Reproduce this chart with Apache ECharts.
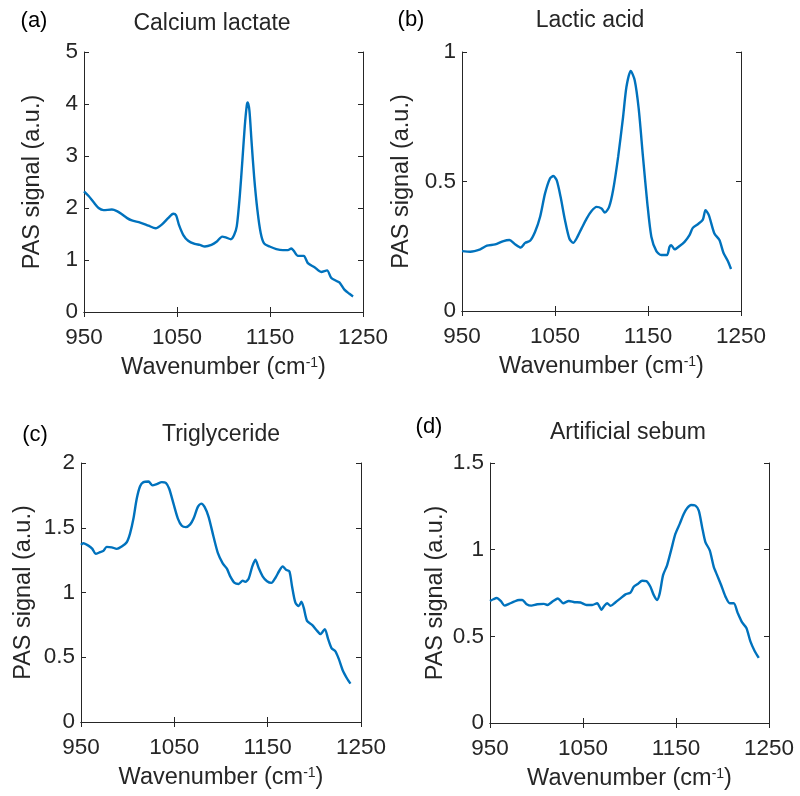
<!DOCTYPE html>
<html><head><meta charset="utf-8">
<script src="https://cdn.jsdelivr.net/npm/echarts@6/dist/echarts.min.js"></script>
<style>html,body{margin:0;padding:0;background:#fff}#c{width:800px;height:796px}</style>
</head><body><div id="c"></div>
<script>
// ---- data ----
const xTickLabels = [950, 1050, 1150, 1250];
const panelTags = ['(a)', '(b)', '(c)', '(d)'];
const panelTitles = ['Calcium lactate', 'Lactic acid', 'Triglyceride', 'Artificial sebum'];
const yMaxes = [5, 1, 2, 1.5];
const ySteps = [1, 0.5, 0.5, 0.5];
const xLabel = 'Wavenumber (cm{sup|-1})';
const yLabel = 'PAS signal (a.u.)';

const wavenumberA = [950,955,960.4,965.7,971,980,985.4,990.7,996,1001.4,1010.4,1019.3,1027,1033.6,1040.7,1046,1049,1052,1056.8,1062,1069,1074.6,1080,1087,1092.5,1098.6,1103,1107.9,1111.4,1114.3,1117.5,1120.4,1122.9,1125,1126,1127.9,1130,1132.9,1136.4,1140,1143.6,1149.6,1156.8,1163.9,1169.3,1172.9,1175.4,1180,1183.6,1186.4,1190.7,1197.9,1205,1211.4,1215.7,1221,1224.6,1230,1235.4,1239.3];
const signalA = [2.32,2.23,2.11,2.0,1.96,1.97,1.94,1.88,1.81,1.76,1.72,1.66,1.61,1.68,1.81,1.89,1.86,1.68,1.48,1.37,1.31,1.29,1.26,1.29,1.35,1.45,1.43,1.40,1.48,1.65,2.23,2.94,3.58,3.97,4.03,3.87,3.32,2.61,1.97,1.52,1.32,1.26,1.21,1.19,1.19,1.22,1.18,1.08,1.08,1.08,0.94,0.86,0.77,0.80,0.66,0.60,0.57,0.43,0.35,0.30];

const wavenumberB = [950,958.9,969.6,976.8,985.7,994.6,1001,1007,1013.2,1017.9,1023.2,1028.6,1034,1039.3,1044.6,1048.2,1051.8,1056,1060.7,1065.4,1069.6,1073.2,1078.6,1084,1089.3,1094.6,1100,1103.6,1108.2,1112.5,1117.9,1123.2,1126.8,1131.4,1135.7,1140,1144.6,1149.3,1153.6,1159,1164.3,1170.4,1173.2,1175,1178.6,1184,1189.3,1194.6,1198.2,1203.6,1209,1211.8,1215.4,1221.4,1226.8,1231.1,1235.7,1239.3];
const signalB = [0.231,0.229,0.238,0.252,0.257,0.270,0.274,0.258,0.245,0.263,0.271,0.306,0.364,0.454,0.512,0.521,0.505,0.441,0.351,0.280,0.263,0.280,0.319,0.357,0.386,0.402,0.396,0.380,0.402,0.467,0.595,0.749,0.865,0.927,0.891,0.781,0.595,0.415,0.287,0.231,0.216,0.216,0.248,0.254,0.238,0.251,0.267,0.293,0.321,0.335,0.353,0.389,0.370,0.299,0.274,0.225,0.194,0.162];

const wavenumberC = [950,952.5,957.9,962.2,965.7,970.4,974,977.5,982.9,988.3,993.6,999,1002.6,1006.2,1009.7,1013.3,1016.9,1022.3,1026.6,1031.2,1036.6,1040.9,1044.5,1049.1,1053.8,1058,1062.3,1067,1070.6,1075.2,1078.8,1082.4,1086.7,1092,1096.7,1101.7,1106.3,1109.9,1114.6,1118.9,1123.2,1126,1129.6,1133.2,1136.8,1140.4,1144.6,1149.3,1154,1158.2,1162.5,1166.1,1169.7,1173.3,1176.1,1179.7,1183.3,1186.1,1188.6,1192.2,1197.6,1203,1206.5,1211.2,1214.8,1218.4,1222.6,1226.2,1230.5,1235.2,1238.7];
const signalC = [1.367,1.380,1.362,1.337,1.298,1.311,1.321,1.352,1.349,1.337,1.355,1.388,1.457,1.571,1.724,1.821,1.852,1.857,1.827,1.837,1.852,1.847,1.801,1.686,1.571,1.515,1.505,1.526,1.571,1.661,1.686,1.661,1.584,1.431,1.304,1.227,1.184,1.125,1.074,1.066,1.092,1.082,1.107,1.194,1.253,1.189,1.125,1.087,1.074,1.112,1.168,1.202,1.176,1.163,1.048,0.921,0.895,0.929,0.883,0.781,0.750,0.704,0.679,0.717,0.640,0.571,0.546,0.487,0.398,0.334,0.296];

const wavenumberD = [950,953.6,957.2,961.5,965.8,970.4,975.8,981.2,984.7,989.4,994.4,1000.8,1008,1011.5,1018,1023,1028.7,1034.8,1040.9,1047.3,1053.8,1059.9,1065.2,1069.9,1072.4,1076,1079.6,1085,1090.3,1095.7,1101,1104.6,1108.9,1113.6,1118.2,1122.5,1126,1129.6,1132.5,1136.1,1140.4,1144.7,1149.4,1154,1158.3,1161.9,1166.2,1170.9,1174.5,1178.1,1181.6,1186.3,1190.6,1194.2,1198.5,1203.2,1207.8,1212.1,1216.4,1221.1,1225.7,1230,1234.7,1239];
const signalD = [0.704,0.714,0.721,0.704,0.677,0.687,0.700,0.710,0.710,0.685,0.677,0.685,0.687,0.681,0.704,0.718,0.691,0.704,0.697,0.695,0.681,0.681,0.691,0.653,0.672,0.691,0.676,0.697,0.719,0.742,0.752,0.786,0.802,0.821,0.819,0.786,0.739,0.710,0.748,0.853,0.910,0.996,1.092,1.149,1.206,1.239,1.258,1.254,1.225,1.130,1.044,0.996,0.901,0.853,0.796,0.729,0.691,0.691,0.634,0.580,0.548,0.471,0.414,0.376];

const wavenumbers = [wavenumberA, wavenumberB, wavenumberC, wavenumberD];
const signals = [signalA, signalB, signalC, signalD];

// ---- layout ----
const FONT = '"Liberation Sans", Arial, sans-serif';
const TXT = '#262626';
const grids = [
  {left: 84, top: 52, width: 279, height: 260},
  {left: 462, top: 52, width: 279, height: 259},
  {left: 81, top: 463, width: 280, height: 259},
  {left: 490, top: 463, width: 279, height: 260}
];
const tagPos = [[34, 21], [411, 20], [35, 435], [429, 427]];
const titlePos = [[212, 24], [590, 21], [221, 435], [628, 433]];
const yNameGaps = [39, 48, 45, 42];

const xAxes = [], yAxes = [], series = [], graphics = [];
grids.forEach((g, i) => {
  const line = {show: true, lineStyle: {color: TXT, width: 1}};
  const tick = {show: true, inside: true, length: 5, lineStyle: {color: TXT, width: 1}};
  xAxes.push({
    type: 'value', gridIndex: i, position: 'bottom', min: xTickLabels[0], max: xTickLabels[xTickLabels.length - 1], interval: 100,
    axisLine: line, axisTick: tick, splitLine: {show: false},
    axisLabel: {color: TXT, fontFamily: FONT, fontSize: 22.5, margin: 14, formatter: v => String(v)},
    name: xLabel, nameLocation: 'middle', nameGap: 44,
    nameTextStyle: {color: TXT, fontFamily: FONT, fontSize: 23.5,
      rich: {sup: {fontSize: 14, fontFamily: FONT, color: TXT, padding: [0, 0, 10, 0]}}}
  });
  xAxes.push({
    type: 'value', gridIndex: i, position: 'top', min: xTickLabels[0], max: xTickLabels[xTickLabels.length - 1], interval: 100,
    axisLine: line, axisTick: tick, splitLine: {show: false}, axisLabel: {show: false}
  });
  yAxes.push({
    type: 'value', gridIndex: i, position: 'left', min: 0, max: yMaxes[i], interval: ySteps[i],
    axisLine: line, axisTick: tick, splitLine: {show: false},
    axisLabel: {color: TXT, fontFamily: FONT, fontSize: 22.5, margin: 6},
    name: yLabel, nameLocation: 'middle', nameGap: yNameGaps[i],
    nameTextStyle: {color: TXT, fontFamily: FONT, fontSize: 23.5}
  });
  yAxes.push({
    type: 'value', gridIndex: i, position: 'right', min: 0, max: yMaxes[i], interval: ySteps[i],
    axisLine: line, axisTick: tick, splitLine: {show: false}, axisLabel: {show: false}
  });
  series.push({
    type: 'line', xAxisIndex: 2 * i, yAxisIndex: 2 * i, showSymbol: false, smooth: 0.25,
    lineStyle: {color: '#0072BD', width: 2.4}, itemStyle: {color: '#0072BD'},
    data: wavenumbers[i].map((w, k) => [w, signals[i][k]])
  });
  graphics.push({type: 'text', x: tagPos[i][0], y: tagPos[i][1],
    style: {text: panelTags[i], fill: '#000', font: '22px ' + FONT, align: 'center', verticalAlign: 'middle'}});
  graphics.push({type: 'text', x: titlePos[i][0], y: titlePos[i][1],
    style: {text: panelTitles[i], fill: TXT, font: '23px ' + FONT, align: 'center', verticalAlign: 'middle'}});
});

const chart = echarts.init(document.getElementById('c'), null, {renderer: 'canvas'});
chart.setOption({
  backgroundColor: '#fff',
  animation: false,
  grid: grids,
  xAxis: xAxes,
  yAxis: yAxes,
  series: series,
  graphic: graphics
});
</script></body></html>
